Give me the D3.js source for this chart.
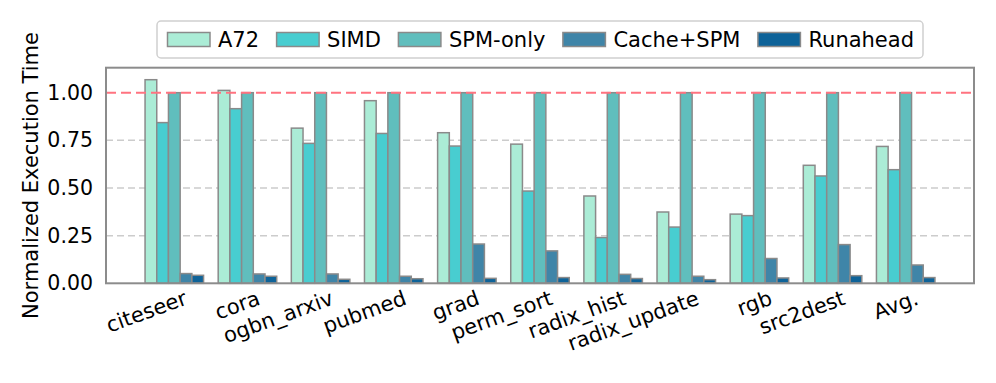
<!DOCTYPE html>
<html><head><meta charset="utf-8">
<script src="https://cdn.jsdelivr.net/npm/d3@7"></script>
<style>body{margin:0;background:#fff}svg{display:block;font-family:"DejaVu Sans",sans-serif}</style>
</head><body><svg id="c" width="996" height="383"></svg>
<script>
const categories = ["citeseer","cora","ogbn_arxiv","pubmed","grad","perm_sort","radix_hist","radix_update","rgb","src2dest","Avg."];
const seriesNames = ["A72","SIMD","SPM-only","Cache+SPM","Runahead"];
const seriesColors = ["#abecd6","#48cdd0","#60bebd","#3f85a8","#0e6399"];
const a72      = [1.068,1.012,0.814,0.958,0.790,0.730,0.458,0.374,0.363,0.619,0.718];
const simd     = [0.843,0.916,0.734,0.786,0.720,0.484,0.240,0.295,0.355,0.563,0.596];
const spmOnly  = [1,1,1,1,1,1,1,1,1,1,1];
const cacheSpm = [0.051,0.049,0.049,0.037,0.206,0.170,0.047,0.037,0.130,0.203,0.096];
const runahead = [0.042,0.037,0.021,0.024,0.026,0.030,0.025,0.019,0.028,0.040,0.030];
const yTicks = [0,0.25,0.5,0.75,1.0];
const yLabel = "Normalized Execution Time";
const values = [a72,simd,spmOnly,cacheSpm,runahead];

const svg = d3.select("#c");
const L=106,R=974,T=67.7,B=283.3;
const x0 = d3.scaleBand().domain(categories).range([L,R]).paddingInner(0.2).paddingOuter(0.534);
const x1 = d3.scaleBand().domain(seriesNames).range([0,x0.bandwidth()]).padding(0);
const y = d3.scaleLinear().domain([0,1.131]).range([B,T]);

// grid
svg.append("g").selectAll("line").data(yTicks.filter(d=>d>0&&d<1)).join("line")
  .attr("x1",L).attr("x2",R).attr("y1",d=>y(d)).attr("y2",d=>y(d))
  .attr("stroke","#cccccc").attr("stroke-width",1.5).attr("stroke-dasharray","7,4");

// bars
const g = svg.append("g");
categories.forEach((c,i)=>{
  seriesNames.forEach((s,j)=>{
    g.append("rect")
      .attr("x",x0(c)+x1(s)).attr("width",x1.bandwidth())
      .attr("y",y(values[j][i])).attr("height",y(0)-y(values[j][i]))
      .attr("fill",seriesColors[j]).attr("stroke","#8a8a8a").attr("stroke-width",1.5);
  });
});

// red baseline
svg.append("line").attr("x1",L).attr("x2",R).attr("y1",y(1)).attr("y2",y(1))
  .attr("stroke","#ff7380").attr("stroke-width",2).attr("stroke-dasharray","10,5");

// frame
svg.append("rect").attr("x",L).attr("y",T).attr("width",R-L).attr("height",B-T)
  .attr("fill","none").attr("stroke","#8c8c8c").attr("stroke-width",2);

// y ticks
const yAxis = d3.axisLeft(y).tickValues(yTicks).tickFormat(d3.format(".2f")).tickSize(0).tickPadding(13);
const ya = svg.append("g").attr("transform",`translate(${L},0)`).call(yAxis);
ya.select(".domain").remove();
ya.selectAll("text").attr("font-size",20.5).attr("fill","#000").attr("font-family","DejaVu Sans");

// x labels
svg.append("g").selectAll("text").data(categories).join("text")
  .attr("transform",d=>`translate(${x0(d)+x0.bandwidth()/2+14},304) rotate(-20)`)
  .attr("text-anchor","end").attr("font-size",21).attr("fill","#000").text(d=>d);

// y label
svg.append("text").attr("transform","translate(38,175.5) rotate(-90)")
  .attr("text-anchor","middle").attr("font-size",21).attr("fill","#000").text(yLabel);

// legend
const lg = svg.append("g");
const box = lg.append("rect").attr("x",157).attr("y",21).attr("width",766).attr("height",37)
  .attr("rx",4).attr("fill","#fff").attr("stroke","#d0d0d0").attr("stroke-width",1.5);
let lx = 167.5;
seriesNames.forEach((s,j)=>{
  lg.append("rect").attr("x",lx).attr("y",32.5).attr("width",42.5).attr("height",14)
    .attr("fill",seriesColors[j]).attr("stroke","#8a8a8a").attr("stroke-width",1.5);
  const t = lg.append("text").attr("x",lx+50.5).attr("y",39.5).attr("dy","0.36em")
    .attr("font-size",21).attr("fill","#000").text(s);
  lx += 50.5 + t.node().getComputedTextLength() + 17.5;
});
</script></body></html>
